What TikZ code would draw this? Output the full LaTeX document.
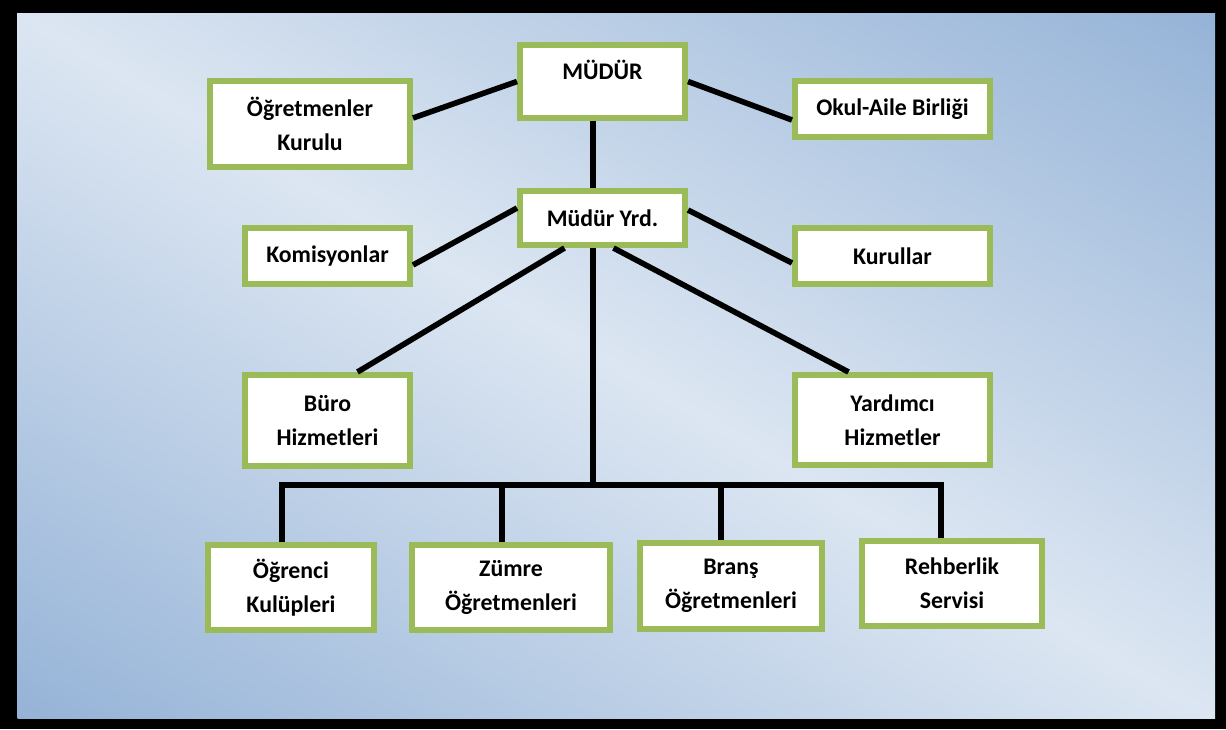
\documentclass[tikz,border=0pt]{standalone}
\usepackage{fontspec}
\setmainfont{Carlito}
\usetikzlibrary{calc, positioning}
\definecolor{boxgreen}{RGB}{155,187,89}
\definecolor{bgblue}{RGB}{149,179,215}
\definecolor{bglight}{RGB}{220,230,242}
\pgfdeclareverticalshading{bgdiag}{100bp}{color(0bp)=(bgblue); color(25bp)=(bgblue);
    color(50bp)=(bglight); color(75bp)=(bgblue); color(100bp)=(bgblue)}

\begin{document}
\begin{tikzpicture}[x=0.5pt, y=-0.5pt,
    unit/.style={draw=boxgreen, line width=3pt, fill=white, align=center, inner sep=0pt,
        font=\fontsize{11.9}{17}\selectfont\bfseries},
    link/.style={line width=2.8pt, black}]
    % frame and background
    \fill[black] (0,0) rectangle (1226,729);
    \begin{scope}
        \clip (17,13) rectangle (1215,718);
        \begin{scope}[transform canvas={cm={1198,-705,599,352.5,(-590.5pt,-6.5pt)}}]
            \shade[shading=bgdiag] (0pt,0pt) rectangle (1pt,1pt);
        \end{scope}
    \end{scope}

    % top level
    \node[unit, minimum width=82.5pt, minimum height=36.5pt] (mudur) at (602.5,81.5) {MÜDÜR\\[-5pt]\mbox{}};
    \node[unit, minimum width=100pt, minimum height=43pt] (ogk) at (310,124) {Öğretmenler\\Kurulu};
    \node[unit, minimum width=97.5pt, minimum height=28pt] (oab) at (892.5,109) {Okul-Aile Birliği};

    % second level
    \node[unit, minimum width=82.5pt, minimum height=27pt] (yrd) at (602.5,218) {Müdür Yrd.};
    \node[unit, minimum width=82.5pt, minimum height=28pt] (kom) at (327.5,256) {Komisyonlar};
    \node[unit, minimum width=97.5pt, minimum height=28pt] (kur) at (892.5,256) {Kurullar};

    % services
    \node[unit, minimum width=82.5pt, minimum height=45.5pt] (buro) at (327.5,420.5) {Büro\\Hizmetleri};
    \node[unit, minimum width=97.5pt, minimum height=45pt] (yard) at (892.5,420) {Yardımcı\\Hizmetler};

    % bottom row
    \node[unit, minimum width=83pt, minimum height=42.5pt] (ogr) at (291,587.5) {Öğrenci\\Kulüpleri};
    \node[unit, minimum width=99pt, minimum height=42.5pt] (zum) at (511,587.5) {Zümre\\Öğretmenleri};
    \node[unit, minimum width=91pt, minimum height=43pt] (brans) at (731,586) {Branş\\Öğretmenleri};
    \node[unit, minimum width=90pt, minimum height=42.5pt] (rehb) at (952,583.5) {Rehberlik\\Servisi};

    \coordinate (bus) at (593,485);

    % links to the side units
    \draw[link] ($(ogk.east)+(0,-6)$) -- (mudur.west);
    \draw[link] (mudur.east) -- ($(oab.west)+(0,11)$);
    \draw[link] (mudur.south -| bus) -- (yrd.north -| bus);
    \draw[link] ($(kom.east)+(0,9)$) -- ($(yrd.west)+(0,-10)$);
    \draw[link] ($(yrd.east)+(0,-8)$) -- ($(kur.west)+(0,7)$);
    \draw[link] ($(yrd.south)+(-38,0)$) -- ($(buro.north)+(30,0)$);
    \draw[link] ($(yrd.south)+(11,0)$) -- ($(yard.north)+(-44,0)$);

    % bus to the bottom row
    \draw[link] (yrd.south -| bus) -- (bus);
    \foreach \n/\dx in {ogr/-9, zum/-9, brans/-10, rehb/-11}
        \coordinate (d\n) at ($(\n.north)+(\dx,0)$);
    \draw[link] (dogr) -- (dogr |- bus) -- (drehb |- bus) -- (drehb);
    \draw[link] (dzum) -- (dzum |- bus);
    \draw[link] (dbrans) -- (dbrans |- bus);
\end{tikzpicture}
\end{document}
